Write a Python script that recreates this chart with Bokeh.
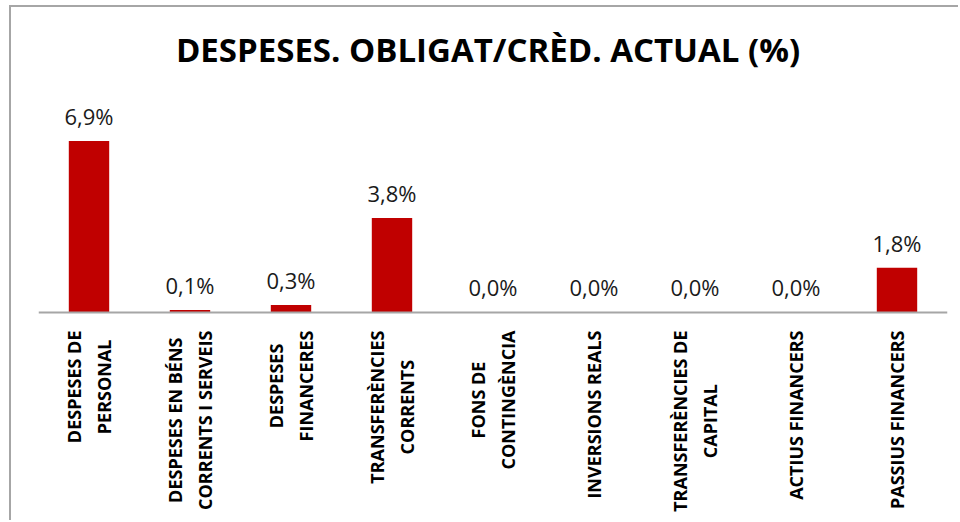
import math
from bokeh.plotting import figure
from bokeh.models import Range1d, Span, ColumnDataSource
from bokeh.core.properties import value
from bokeh.embed import file_html
from bokeh.resources import INLINE

# ---- data ----
title_text = "DESPESES. OBLIGAT/CRÈD. ACTUAL (%)"
categories = [
    "DESPESES DE\nPERSONAL",
    "DESPESES EN BÉNS\nCORRENTS I SERVEIS",
    "DESPESES\nFINANCERES",
    "TRANSFERÈNCIES\nCORRENTS",
    "FONS DE\nCONTINGÈNCIA",
    "INVERSIONS REALS",
    "TRANSFERÈNCIES DE\nCAPITAL",
    "ACTIUS FINANCERS",
    "PASSIUS FINANCERS",
]
values = [6.9, 0.1, 0.3, 3.8, 0.0, 0.0, 0.0, 0.0, 1.8]
value_labels = [f"{v:.1f}".replace(".", ",") + "%" for v in values]

# ---- style constants ----
BAR_COLOR = "#C00000"
GRAY = "#a6a6a6"
FONT = "Open Sans"
Y_MIN = -8.45
Y_MAX = 12.27

src = ColumnDataSource(dict(cat=categories, val=values, lab=value_labels))

p = figure(
    x_range=categories,
    y_range=Range1d(Y_MIN, Y_MAX),
    width=949, height=515,
    output_backend="svg",
    toolbar_location=None,
    x_axis_location=None, y_axis_location=None,
    min_border_left=27, min_border_right=13,
    min_border_top=0, min_border_bottom=0,
)
p.styles = {
    "margin-left": "9px", "margin-top": "5px",
    "border-top": f"2px solid {GRAY}", "border-left": f"2px solid {GRAY}",
}
p.outline_line_color = None
p.grid.visible = False
p.background_fill_color = "white"
p.border_fill_color = "white"

p.vbar(x="cat", top="val", bottom=0, width=0.4, source=src,
       fill_color=BAR_COLOR, line_color=None)

p.add_layout(Span(location=0, dimension="width", line_color=GRAY, line_width=2))

# value labels
p.text(x="cat", y="val", text="lab", source=src,
       text_font=value(FONT), text_font_size="22px", text_color="#1a1a1a",
       text_align="center", text_baseline="alphabetic", y_offset=-25)

# category labels (rotated, drawn below the baseline)
p.text(x="cat", y=0, text="cat", source=src, angle=math.pi / 2,
       text_font=value(FONT), text_font_style="bold", text_font_size="18px",
       text_color="black", text_align="center", anchor="center_right",
       text_line_height=1.22, y_offset=18)

# title
p.text(x=[categories[4]], y=[Y_MAX], text=[title_text],
       text_font=value(FONT), text_font_style="bold", text_font_size="33px",
       text_color="black", anchor="center", text_align="center",
       x_offset=-5, y_offset=42)

open("out.html", "w").write(file_html(p, INLINE))
